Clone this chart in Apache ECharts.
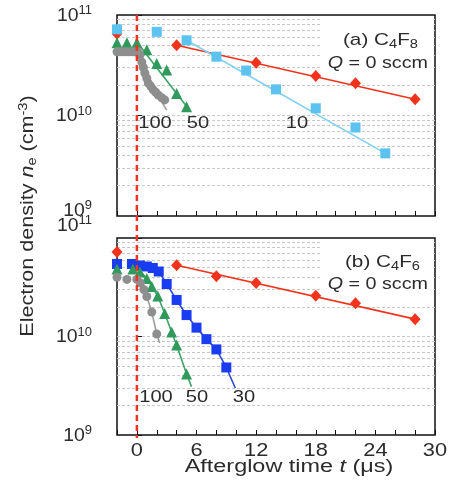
<!DOCTYPE html>
<html><head><meta charset="utf-8">
<script src="https://cdn.jsdelivr.net/npm/echarts@6/dist/echarts.min.js"></script>
<style>html,body{margin:0;padding:0;background:#fff}#c{width:449px;height:495px}</style>
</head><body><div id="c"></div>
<script>
// ---------- data ----------
// panel (a) C4F8
const a_t_q0 = [-2, 4, 12, 18, 22, 28];
const a_n_q0 = [6.5e10, 5.0e10, 3.35e10, 2.47e10, 2.09e10, 1.45e10];
const a_t_q10 = [-2, 2, 5, 8, 11, 14, 18, 22, 25];
const a_n_q10 = [7.2e10, 6.8e10, 5.6e10, 3.85e10, 2.8e10, 1.82e10, 1.18e10, 7.6e9, 4.2e9];
const a_t_q50 = [-2, -1, 0, 1, 2, 3, 4, 5];
const a_n_q50 = [5.3e10, 5.3e10, 5.3e10, 4.5e10, 3.3e10, 2.84e10, 1.66e10, 1.22e10];
const a_t_q100 = [-2, -1.7, -1.4, -1.1, -0.8, -0.5, -0.2, 0.1, 0.3, 0.5, 0.65, 0.8, 1.0, 1.15, 1.4, 1.65, 1.9, 2.15, 2.5, 2.8];
const a_n_q100 = [4.3e10, 4.3e10, 4.3e10, 4.3e10, 4.3e10, 4.3e10, 4.3e10, 4.3e10, 4.0e10, 3.4e10, 3.0e10, 2.65e10, 2.35e10, 2.1e10, 1.95e10, 1.8e10, 1.7e10, 1.6e10, 1.5e10, 1.43e10];
// fitted lines, panel (a)
const a_fit_t_q0 = [4, 28];
const a_fit_n_q0 = [5.0e10, 1.45e10];
const a_fit_t_q10 = [5, 25];
const a_fit_n_q10 = [5.6e10, 4.2e9];
const a_fit_t_q50 = [0, 5.3];
const a_fit_n_q50 = [5.4e10, 1.13e10];
const a_fit_t_q100 = [2.0, 3.0];
const a_fit_n_q100 = [1.65e10, 1.13e10];

// panel (b) C4F6
const b_t_q0 = [-2, 4, 8, 12, 18, 22, 28];
const b_n_q0 = [7.2e10, 5.3e10, 4.1e10, 3.5e10, 2.6e10, 2.17e10, 1.5e10];
const b_t_q30 = [-2, -0.5, 0.3, 1, 1.6, 2.2, 3, 4, 5, 6, 7, 8, 9];
const b_n_q30 = [5.45e10, 5.45e10, 5.26e10, 5.14e10, 4.96e10, 4.57e10, 3.41e10, 2.35e10, 1.65e10, 1.23e10, 9.4e9, 7.4e9, 4.85e9];
const b_t_q50 = [-2, -0.4, 0.3, 1, 1.5, 2.1, 2.8, 3.5, 4, 5];
const b_n_q50 = [4.84e10, 4.84e10, 4.52e10, 3.88e10, 3.22e10, 2.58e10, 1.71e10, 1.11e10, 8.2e9, 4.16e9];
const b_t_q100 = [-2, -1, 0, 0.35, 0.7, 1.0, 1.5, 2.0];
const b_n_q100 = [4.0e10, 3.8e10, 3.8e10, 3.5e10, 3.0e10, 2.55e10, 1.77e10, 1.06e10];
// fitted lines, panel (b)
const b_fit_t_q0 = [4, 28];
const b_fit_n_q0 = [5.3e10, 1.5e10];
const b_fit_t_q30 = [0.1, 2.2, 3, 4, 5, 6, 7, 8, 9, 9.9];
const b_fit_n_q30 = [5.45e10, 4.57e10, 3.41e10, 2.35e10, 1.65e10, 1.23e10, 9.4e9, 7.4e9, 4.85e9, 3.0e9];
const b_fit_t_q50 = [0, 1, 2.1, 2.8, 3.5, 4, 5, 5.5];
const b_fit_n_q50 = [5.0e10, 3.88e10, 2.58e10, 1.71e10, 1.11e10, 8.2e9, 4.16e9, 3.1e9];
const b_fit_t_q100 = [0, 0.7, 1.0, 1.5, 2.0, 2.3];
const b_fit_n_q100 = [3.8e10, 3.0e10, 2.55e10, 1.77e10, 1.06e10, 8.6e9];

// axes and tick labels
const xMin = -2, xMax = 30, xStep = 2;
const xTickLabels = [0, 6, 12, 18, 24, 30];
const yMin = 1e9, yMax = 1e11;
const yTickExps = [9, 10, 11];
const gridVals = [2e9,3e9,4e9,5e9,6e9,7e9,8e9,9e9,1e10,2e10,3e10,4e10,5e10,6e10,7e10,8e10,9e10];

// ---------- chart ----------
const FONT = 'Liberation Sans, Arial, Helvetica, sans-serif';
const TXT = '#2b2b2b';
const SX = 1.22; // text in the reference is horizontally wide
const C = {red:'#f2331c', lblue:'#5cc2ef', green:'#2f9a5c', gray:'#8e8e8e', blue:'#1a3cf0',
           lblueLine:'#7fd0f4', greenLine:'#3aa266', grayLine:'#9c9c9c', blueLine:'#2a48d6'};
const pts = (t, n) => t.map((v, i) => [v, n[i]]);

const chart = echarts.init(document.getElementById('c'), null, {renderer:'canvas'});

const grids = [
  {left:117, top:15, width:318, height:201},
  {left:117, top:238, width:318, height:197}
];

function xAx(i) {
  return {
    gridIndex:i, type:'value', min:xMin, max:xMax, interval:xStep,
    axisLine:{show:false},
    axisTick:{show:true, inside:true, length:5, lineStyle:{color:'#111', width:1}},
    splitLine:{show:false},
    axisLabel:{show:false}
  };
}
function yAx(i) {
  return {
    gridIndex:i, type:'log', logBase:10, min:yMin, max:yMax,
    axisLine:{show:false},
    axisTick:{show:true, inside:true, length:5, lineStyle:{color:'#111', width:1}},
    splitLine:{show:false},
    axisLabel:{show:false}
  };
}

function scatter(i, t, n, sym, size, color, z) {
  return {type:'scatter', xAxisIndex:i, yAxisIndex:i, data:pts(t, n), symbol:sym, symbolSize:size,
          itemStyle:{color:color, opacity:1}, z:z, silent:true, animation:false};
}
function fit(i, t, n, color, z) {
  return {type:'line', xAxisIndex:i, yAxisIndex:i, data:pts(t, n), showSymbol:false, symbol:'none',
          lineStyle:{color:color, width:1.6}, z:z, silent:true, animation:false};
}
function gridLines(i) {
  return {type:'line', xAxisIndex:i, yAxisIndex:i, data:[], z:0, silent:true, animation:false,
    markLine:{silent:true, z:0, symbol:['none','none'], label:{show:false}, animation:false,
      lineStyle:{color:'#c8c8c8', width:1, type:[3,2]},
      data: gridVals.map(v => ({yAxis:v}))}};
}

const series = [
  gridLines(0), gridLines(1),
  // panel a
  fit(0, a_fit_t_q0, a_fit_n_q0, C.red, 3),
  fit(0, a_fit_t_q10, a_fit_n_q10, C.lblueLine, 3),
  fit(0, a_fit_t_q50, a_fit_n_q50, C.greenLine, 3),
  fit(0, a_fit_t_q100, a_fit_n_q100, C.grayLine, 3),
  scatter(0, a_t_q0, a_n_q0, 'diamond', [11,12], C.red, 4),
  scatter(0, a_t_q10, a_n_q10, 'rect', 10, C.lblue, 5),
  scatter(0, a_t_q50, a_n_q50, 'triangle', 11, C.green, 6),
  scatter(0, a_t_q100, a_n_q100, 'circle', 9, C.gray, 7),
  // panel b
  fit(1, b_fit_t_q0, b_fit_n_q0, C.red, 3),
  fit(1, b_fit_t_q30, b_fit_n_q30, C.blueLine, 3),
  fit(1, b_fit_t_q50, b_fit_n_q50, C.greenLine, 3),
  fit(1, b_fit_t_q100, b_fit_n_q100, C.grayLine, 3),
  scatter(1, b_t_q0, b_n_q0, 'diamond', [11,12], C.red, 4),
  scatter(1, b_t_q30, b_n_q30, 'rect', 10, C.blue, 5),
  scatter(1, b_t_q50, b_n_q50, 'triangle', 11, C.green, 6),
  scatter(1, b_t_q100, b_n_q100, 'circle', 9, C.gray, 7)
];

chart.setOption({
  animation:false,
  backgroundColor:'#fff',
  grid: grids.map(g => Object.assign({show:true, borderColor:'#111', borderWidth:1.5, backgroundColor:'transparent', containLabel:false}, g)),
  xAxis:[xAx(0), xAx(1)],
  yAxis:[yAx(0), yAx(1)],
  series: series
});

// ---------- text & annotations ----------
const x0 = chart.convertToPixel({xAxisIndex:0}, 0);
const topY = chart.convertToPixel({yAxisIndex:0}, yMax);
const botY = chart.convertToPixel({yAxisIndex:1}, yMin);
function richFor(fs) {
  const s = Math.round(fs * 0.68);
  return {
    n:{fontSize:fs, fontFamily:FONT, fill:TXT, lineHeight:fs + 4},
    it:{fontStyle:'italic', fontSize:fs, fontFamily:FONT, fill:TXT, lineHeight:fs + 4},
    sub:{fontSize:s, fontFamily:FONT, fill:TXT, verticalAlign:'bottom', lineHeight:fs + 4},
    sup:{fontSize:s, fontFamily:FONT, fill:TXT, verticalAlign:'top', lineHeight:fs + 4}
  };
}
function txt(x, y, text, fs, align, sx, extra) {
  return Object.assign({type:'text', x:x, y:y, z:20, silent:true, scaleX:sx || SX,
    style:{text:text, align:align || 'center', verticalAlign:'middle', rich:richFor(fs),
           fontSize:fs, fontFamily:FONT, fill:TXT}}, extra || {});
}

const g = [
  {type:'rect', shape:{x:321, y:17, width:112.5, height:58}, style:{fill:'#fff'}, z:10, silent:true},
  {type:'rect', shape:{x:321, y:240, width:112.5, height:54}, style:{fill:'#fff'}, z:10, silent:true},
  {type:'line', shape:{x1:x0, y1:topY, x2:x0, y2:botY + 3}, z:15, silent:true,
    style:{stroke:'#ee3322', lineWidth:2.5, lineDash:[6,4]}},
  txt(418, 40, '{n|(a) C}{sub|4}{n|F}{sub|8}', 17, 'right'),
  txt(428, 63, '{it|Q}{n| = 0 sccm}', 17, 'right', 1.16),
  txt(420, 262, '{n|(b) C}{sub|4}{n|F}{sub|6}', 17, 'right'),
  txt(428, 284, '{it|Q}{n| = 0 sccm}', 17, 'right', 1.16),
  txt(155, 123, '100', 16.5), txt(198, 123, '50', 16.5), txt(297, 123, '10', 16.5),
  txt(156, 397, '100', 16.5), txt(197, 397, '50', 16.5), txt(244, 397, '30', 16.5),
  txt(289, 467, '{n|Afterglow time }{it|t}{n| (μs)}', 18, 'center', 1.3),
  txt(28, 216, '{n|Electron density }{it|n}{sub|e}{n| (cm}{sup|-3}{n|)}', 17.5, 'center', 1.23, {rotation:Math.PI/2})
];
// x tick labels (bottom panel only)
xTickLabels.forEach(v => {
  g.push(txt(chart.convertToPixel({xAxisIndex:1}, v), botY + 16, String(v), 18.5, 'center', 1.18));
});
// y tick labels, both panels
[0, 1].forEach(i => {
  yTickExps.forEach(e => {
    let y = chart.convertToPixel({yAxisIndex:i}, Math.pow(10, e)) + 1;
    if (i === 0 && e === 9) y -= 6;
    if (i === 1 && e === 11) y -= 13;
    g.push(txt(92, y, '{n|10}{sup|' + e + '}', 18, 'right', 1.08));
  });
});
chart.setOption({graphic:g});
</script></body></html>
